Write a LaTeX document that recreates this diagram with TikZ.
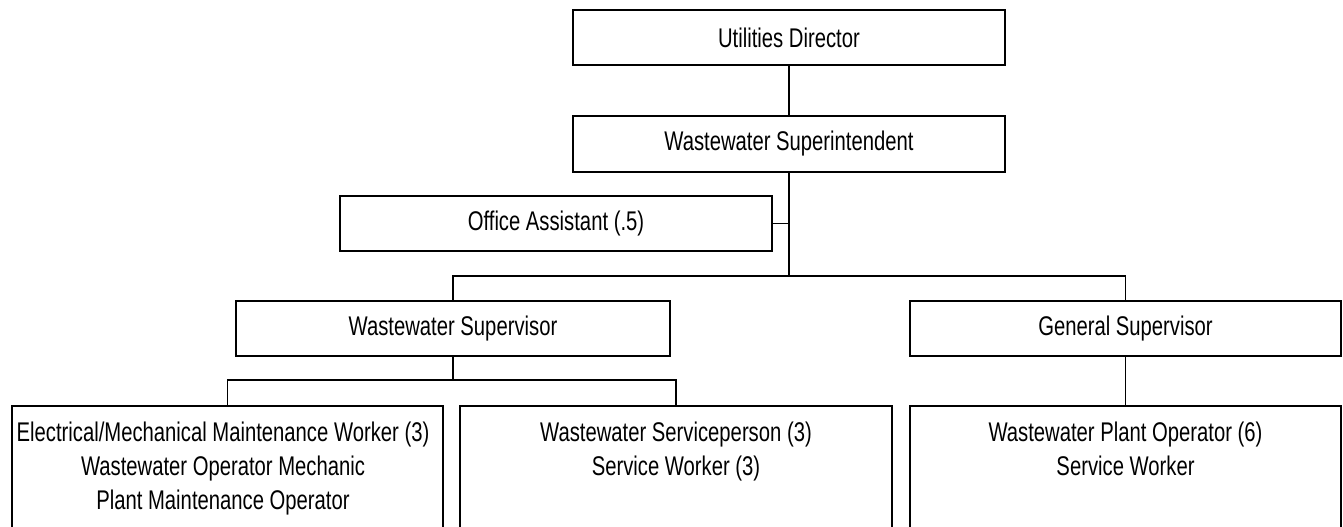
\documentclass[tikz,border=0pt]{standalone}
\usepackage{fontspec}
\setmainfont[FakeStretch=0.75]{Liberation Sans}
\begin{document}
\begin{tikzpicture}[x=1pt,y=-1pt,
  box/.style={draw,line width=1.8pt,rectangle,inner sep=0pt,minimum width=#1,minimum height=55pt,
    font=\fontsize{27}{34}\selectfont},
  box/.default=432pt,
  tallbox/.style={draw,line width=1.8pt,rectangle,inner sep=0pt,minimum width=#1,minimum height=160pt,anchor=north},
  label/.style={inner sep=0pt,align=center,anchor=base,font=\fontsize{27}{34}\selectfont},
  link/.style={line width=1.8pt}]
\useasboundingbox (0,0) rectangle (1343,527);
\clip (0,0) rectangle (1343,527);
\node[box] (ud) at (789,37.5) {Utilities Director};
\node[box,minimum height=56pt] (sup) at (789,144) {Wastewater Superintendent};
\node[box] (oa) at (556,223.5) {Office Assistant (.5)};
\node[box=434pt] (wsv) at (453,328.5) {Wastewater Supervisor};
\node[box=431pt] (gs) at (1125.5,328.5) {General Supervisor};
\node[tallbox=431pt] (b1) at (227.5,405) {};
\node[tallbox=432pt] (b2) at (676,405) {};
\node[tallbox=431pt] (b3) at (1125.5,405) {};
\node[label] (t1) at (223,509) {Electrical/Mechanical Maintenance Worker (3)\\Wastewater Operator Mechanic\\Plant Maintenance Operator};
\node[label] (t2) at (676,475) {Wastewater Serviceperson (3)\\Service Worker (3)};
\node[label] (t3) at (1125.5,475) {Wastewater Plant Operator (6)\\Service Worker};
\coordinate (j1) at (789,276);
\coordinate (j2) at (453,380);
\draw[link] (ud.south) -- (sup.north);
\draw[link] (sup.south) -- (j1);
\draw[link] (oa.east) -- (oa.east -| sup.south);
\draw[link] (wsv.north) |- (j1) -| (gs.north);
\draw[link] (wsv.south) -- (j2);
\draw[link] (b1.north) |- (j2) -| (b2.north);
\draw[link] (gs.south) -- (b3.north);
\end{tikzpicture}
\end{document}
